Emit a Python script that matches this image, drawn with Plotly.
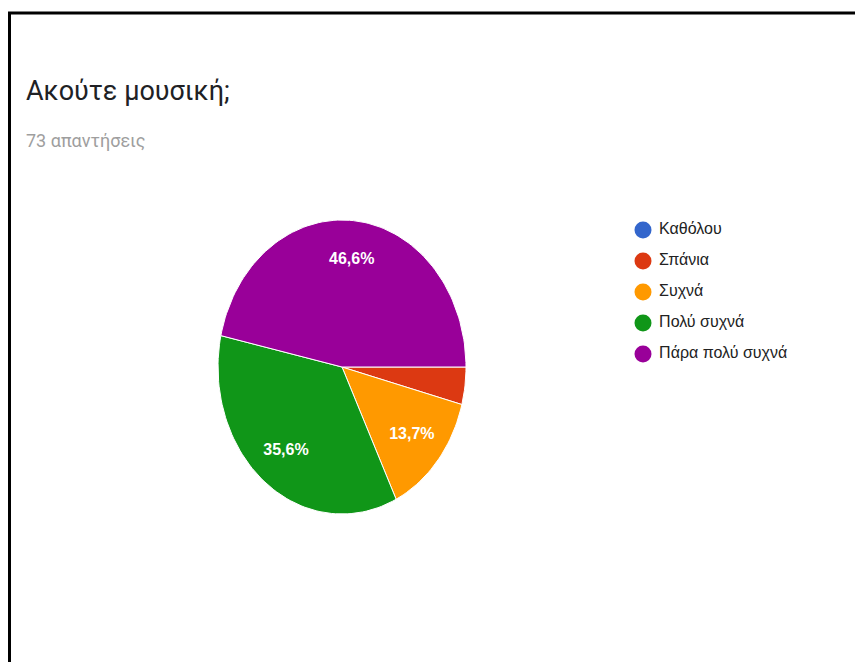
import math
import plotly.graph_objects as go

# ---- data ----
title_text = "Ακούτε μουσική;"
subtitle_text = "73 απαντήσεις"
categories = ["Καθόλου", "Σπάνια", "Συχνά", "Πολύ συχνά", "Πάρα πολύ συχνά"]
counts = [0, 3, 10, 26, 34]
colors = ["#3366cc", "#dc3912", "#ff9900", "#109618", "#990099"]

# ---- layout constants (screen-pixel space; page body has an 8px margin) ----
W, H = 863, 662
OFF = 8
CX, CY = 342, 367      # pie centre
RX, RY = 124, 147      # pie radii (slightly stretched, as in the reference)
LABEL_R = 0.73
LEG_X, LEG_Y0, LEG_DY = 643, 230, 31
SANS = "Liberation Sans, Arial"

total = sum(counts)
fig = go.Figure()

# pie wedges, clockwise from 3 o'clock
start = 0.0
label_x, label_y, label_t = [], [], []
for cat, val, col in zip(categories, counts, colors):
    frac = val / total
    if frac > 0:
        a0 = start * 2 * math.pi
        a1 = (start + frac) * 2 * math.pi
        n = max(3, int(200 * frac))
        xs, ys = [CX], [CY]
        for i in range(n + 1):
            t = a0 + (a1 - a0) * i / n
            xs.append(CX + RX * math.cos(t))
            ys.append(CY + RY * math.sin(t))
        xs.append(CX)
        ys.append(CY)
        fig.add_trace(go.Scatter(x=xs, y=ys, mode="lines", fill="toself",
                                 fillcolor=col, line=dict(color="white", width=1),
                                 hoverinfo="text", text=f"{cat}: {val}",
                                 showlegend=False))
        if frac >= 0.05:
            tm = (a0 + a1) / 2
            label_x.append(CX + LABEL_R * RX * math.cos(tm))
            label_y.append(CY + LABEL_R * RY * math.sin(tm))
            label_t.append("<b>" + f"{frac*100:.1f}".replace(".", ",") + "%</b>")
    start += frac

fig.add_trace(go.Scatter(x=label_x, y=label_y, mode="text", text=label_t,
                         textfont=dict(family=SANS, size=16, color="white"),
                         hoverinfo="skip", showlegend=False))

# legend (drawn manually)
leg_y = [LEG_Y0 + i * LEG_DY for i in range(len(categories))]
fig.add_trace(go.Scatter(x=[LEG_X] * len(categories), y=leg_y, mode="markers+text",
                         marker=dict(size=17, color=colors),
                         text=[" " + c for c in categories], textposition="middle right",
                         textfont=dict(family=SANS, size=16, color="#222222"),
                         hoverinfo="skip", showlegend=False))

fig.update_layout(
    width=W - OFF, height=H - OFF,
    margin=dict(l=0, r=0, t=0, b=0),
    paper_bgcolor="white", plot_bgcolor="white",
    xaxis=dict(range=[OFF, W], visible=False, fixedrange=True),
    yaxis=dict(range=[H, OFF], visible=False, fixedrange=True),
    showlegend=False,
    annotations=[
        dict(x=24, y=91, xref="x", yref="y", text=title_text, showarrow=False,
             xanchor="left", yanchor="middle",
             font=dict(family="Roboto", size=27, color="#202124")),
        dict(x=24, y=140, xref="x", yref="y", text=subtitle_text, showarrow=False,
             xanchor="left", yanchor="middle",
             font=dict(family="Roboto", size=18, color="#9e9e9e")),
    ],
    shapes=[
        dict(type="line", xref="x", yref="y", x0=9.5, y0=H, x1=9.5, y1=12,
             line=dict(color="black", width=3)),
        dict(type="line", xref="x", yref="y", x0=8, y0=13, x1=W, y1=13,
             line=dict(color="black", width=3)),
    ],
)

fig.write_html("out.html")
